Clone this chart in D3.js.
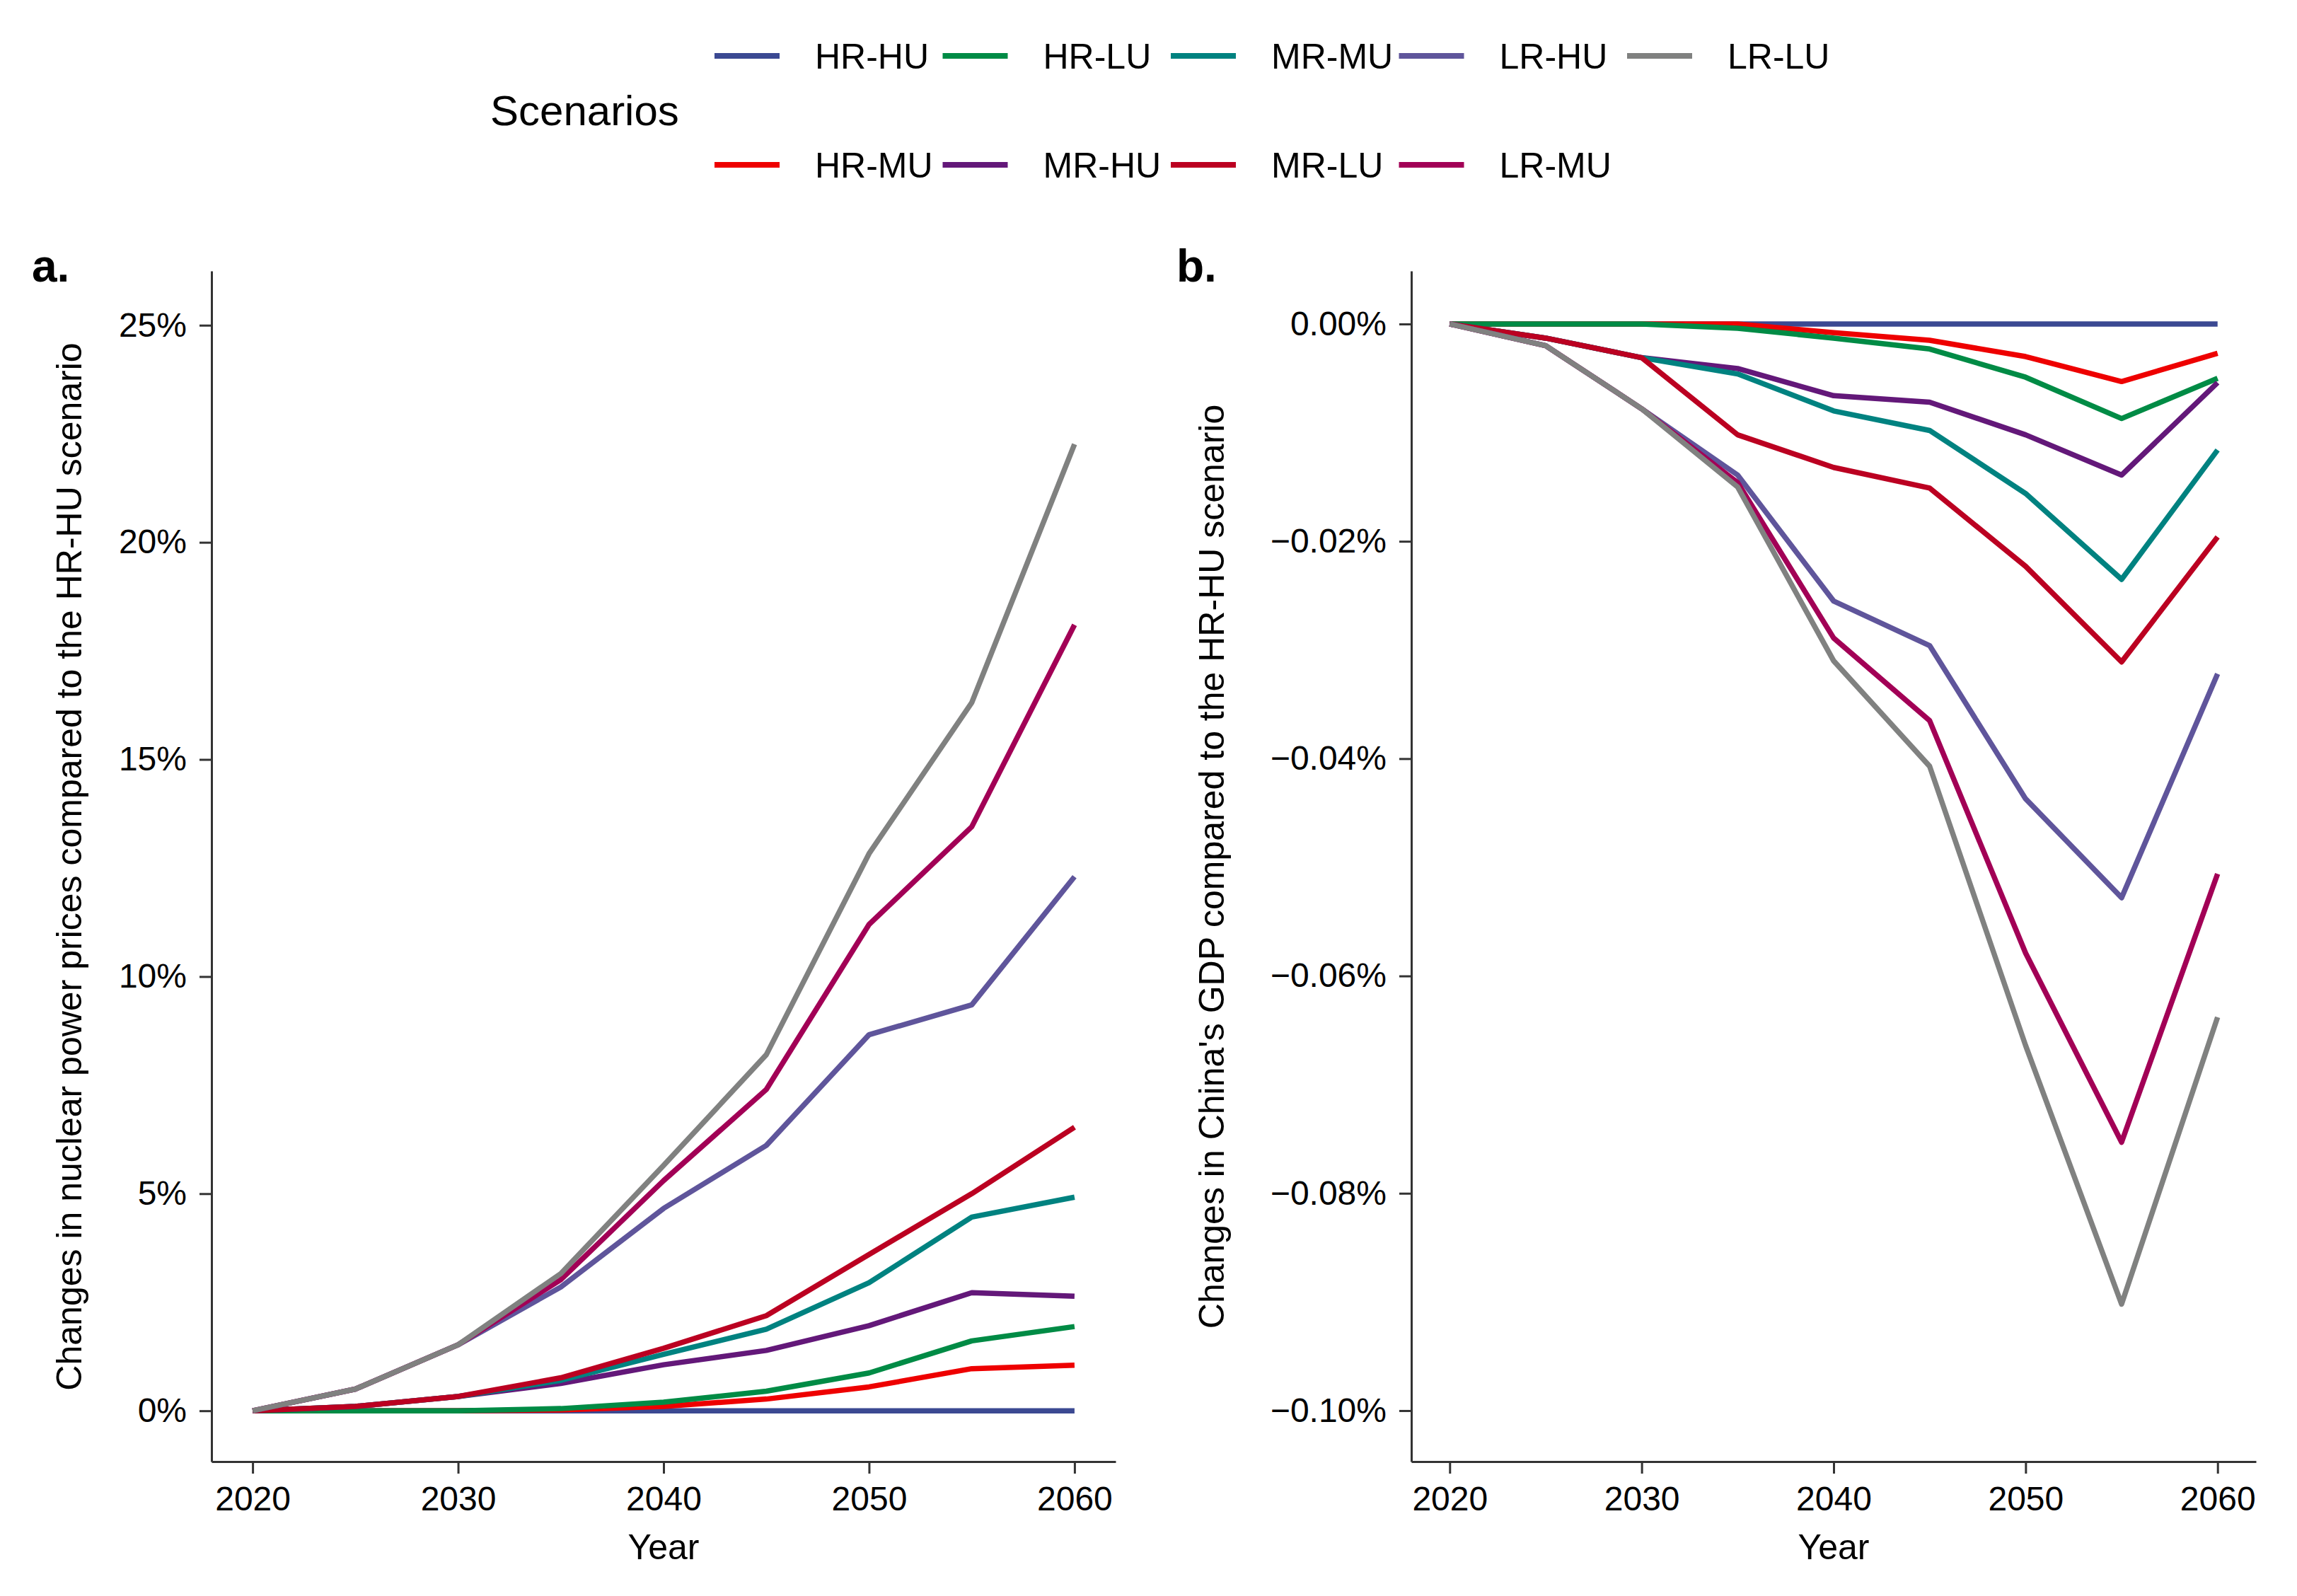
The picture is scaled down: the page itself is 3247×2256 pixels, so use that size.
<!DOCTYPE html>
<html>
<head>
<meta charset="utf-8">
<script src="https://cdn.jsdelivr.net/npm/d3@7"></script>
<style>
  body { margin: 0; background: #fff; }
  svg { display: block; font-family: "Liberation Sans", Arial, sans-serif; }
</style>
</head>
<body>
<svg id="chart"></svg>
<script>
// scenario order as plotted (later ones drawn on top)
const scenarios = ["HR-HU", "HR-MU", "HR-LU", "MR-HU", "MR-MU", "MR-LU", "LR-HU", "LR-MU", "LR-LU"];
const colors = ["#3B4992", "#EE0000", "#008B45", "#631879", "#008280", "#BB0021", "#5F559B", "#A20056", "#808180"];
const years = [2020, 2025, 2030, 2035, 2040, 2045, 2050, 2055, 2060];
const yearTicks = [2020, 2030, 2040, 2050, 2060];

// a. changes in nuclear power prices (%)
const priceHRHU = [0, 0, 0, 0, 0, 0, 0, 0, 0];
const priceHRMU = [0, 0, 0, 0.02, 0.1, 0.27, 0.55, 0.97, 1.05];
const priceHRLU = [0, 0, 0, 0.05, 0.2, 0.45, 0.87, 1.61, 1.94];
const priceMRHU = [0, 0.1, 0.33, 0.63, 1.06, 1.39, 1.96, 2.72, 2.64];
const priceMRMU = [0, 0.1, 0.33, 0.7, 1.3, 1.88, 2.95, 4.46, 4.92];
const priceMRLU = [0, 0.1, 0.33, 0.76, 1.44, 2.19, 3.6, 5.0, 6.53];
const priceLRHU = [0, 0.5, 1.52, 2.85, 4.66, 6.11, 8.66, 9.35, 12.3];
const priceLRMU = [0, 0.5, 1.52, 3.02, 5.3, 7.4, 11.2, 13.45, 18.1];
const priceLRLU = [0, 0.5, 1.52, 3.16, 5.65, 8.2, 12.83, 16.31, 22.26];
const priceTicks = [0, 5, 10, 15, 20, 25];

// b. changes in China's GDP (%)
const gdpHRHU = [0, 0, 0, 0, 0, 0, 0, 0, 0];
const gdpHRMU = [0, 0, 0, 0, -0.0008, -0.0015, -0.003, -0.0053, -0.0027];
const gdpHRLU = [0, 0, 0, -0.0004, -0.0013, -0.0023, -0.0049, -0.0087, -0.005];
const gdpMRHU = [0, -0.0013, -0.0031, -0.0041, -0.0066, -0.0072, -0.0102, -0.0139, -0.0054];
const gdpMRMU = [0, -0.0013, -0.0031, -0.0046, -0.008, -0.0098, -0.0156, -0.0235, -0.0116];
const gdpMRLU = [0, -0.0013, -0.0031, -0.0102, -0.0132, -0.0151, -0.0223, -0.0311, -0.0196];
const gdpLRHU = [0, -0.002, -0.0078, -0.0139, -0.0255, -0.0296, -0.0437, -0.0528, -0.0322];
const gdpLRMU = [0, -0.002, -0.0078, -0.0146, -0.0289, -0.0365, -0.0579, -0.0753, -0.0506];
const gdpLRLU = [0, -0.002, -0.0078, -0.015, -0.031, -0.0407, -0.0664, -0.0902, -0.0638];
const gdpTicks = [0, -0.02, -0.04, -0.06, -0.08, -0.10];

const priceSeries = [priceHRHU, priceHRMU, priceHRLU, priceMRHU, priceMRMU, priceMRLU, priceLRHU, priceLRMU, priceLRLU];
const gdpSeries = [gdpHRHU, gdpHRMU, gdpHRLU, gdpMRHU, gdpMRMU, gdpMRLU, gdpLRHU, gdpLRMU, gdpLRLU];

const W = 3247, H = 2256;
const svg = d3.select("#chart").attr("width", W).attr("height", H);

const minus = s => s.replace("-", "\u2212");

function panel(opts) {
    const x = d3.scaleLinear().domain([2018, 2062]).range([opts.left, opts.right]);
    const y = d3.scaleLinear().domain(opts.yDomain).range([2066, 383]);

    const g = svg.append("g");

    // lines
    const line = d3.line()
        .x((d, i) => x(years[i]))
        .y(d => y(d));

    g.selectAll(".series")
        .data(opts.series)
        .enter()
        .append("path")
        .attr("class", "series")
        .attr("fill", "none")
        .attr("stroke", (d, i) => colors[i])
        .attr("stroke-width", 7.5)
        .attr("stroke-linejoin", "round")
        .attr("d", d => line(d));

    // axes
    const xAxis = g.append("g")
        .attr("transform", `translate(0,${y.range()[0]})`)
        .call(d3.axisBottom(x).tickValues(yearTicks).tickFormat(d3.format("d"))
            .tickSize(17).tickSizeOuter(0).tickPadding(18));

    const yAxis = g.append("g")
        .attr("transform", `translate(${opts.left},0)`)
        .call(d3.axisLeft(y).tickValues(opts.ticks).tickFormat(opts.format)
            .tickSize(17).tickSizeOuter(0).tickPadding(18));

    [xAxis, yAxis].forEach(ax => {
        ax.select(".domain").attr("stroke", "#333").attr("stroke-width", 3);
        ax.selectAll(".tick line").attr("stroke", "#333").attr("stroke-width", 3);
        ax.selectAll(".tick text").attr("fill", "#000").style("font-size", "48px");
    });

    // titles
    g.append("text")
        .attr("x", (opts.left + opts.right) / 2)
        .attr("y", 2204)
        .attr("text-anchor", "middle")
        .style("font-size", "50px")
        .text("Year");

    g.append("text")
        .attr("transform", `translate(${opts.titleX},1225) rotate(-90)`)
        .attr("dy", "0.36em")
        .attr("text-anchor", "middle")
        .style("font-size", "50px")
        .text(opts.yTitle);

    g.append("text")
        .attr("x", opts.tagX)
        .attr("y", 398)
        .style("font-size", "64px")
        .style("font-weight", "bold")
        .text(opts.tag);
}

panel({
    left: 299, right: 1577,
    yDomain: [-1.17, 26.25],
    series: priceSeries,
    ticks: priceTicks,
    format: d => d + "%",
    yTitle: "Changes in nuclear power prices compared to the HR-HU scenario",
    titleX: 97,
    tag: "a.", tagX: 45
});

panel({
    left: 1995, right: 3189,
    yDomain: [-0.10469, 0.00488],
    series: gdpSeries,
    ticks: gdpTicks,
    format: d => minus(d3.format(".2f")(d === 0 ? 0 : d) + "%"),
    yTitle: "Changes in China's GDP compared to the HR-HU scenario",
    titleX: 1712,
    tag: "b.", tagX: 1663
});

// legend (two rows, filled column by column)
const legend = svg.append("g");

legend.append("text")
    .attr("x", 693)
    .attr("y", 177)
    .style("font-size", "60px")
    .text("Scenarios");

const rowY = [79, 233];
const item = legend.selectAll(".key")
    .data(scenarios)
    .enter()
    .append("g")
    .attr("class", "key")
    .attr("transform", (d, i) => `translate(${1010 + Math.floor(i / 2) * 322.5},${rowY[i % 2]})`);

item.append("line")
    .attr("x1", 0).attr("x2", 92)
    .attr("stroke", (d, i) => colors[i])
    .attr("stroke-width", 8);

item.append("text")
    .attr("x", 142)
    .attr("dy", "0.36em")
    .style("font-size", "50px")
    .text(d => d);
</script>
</body>
</html>
